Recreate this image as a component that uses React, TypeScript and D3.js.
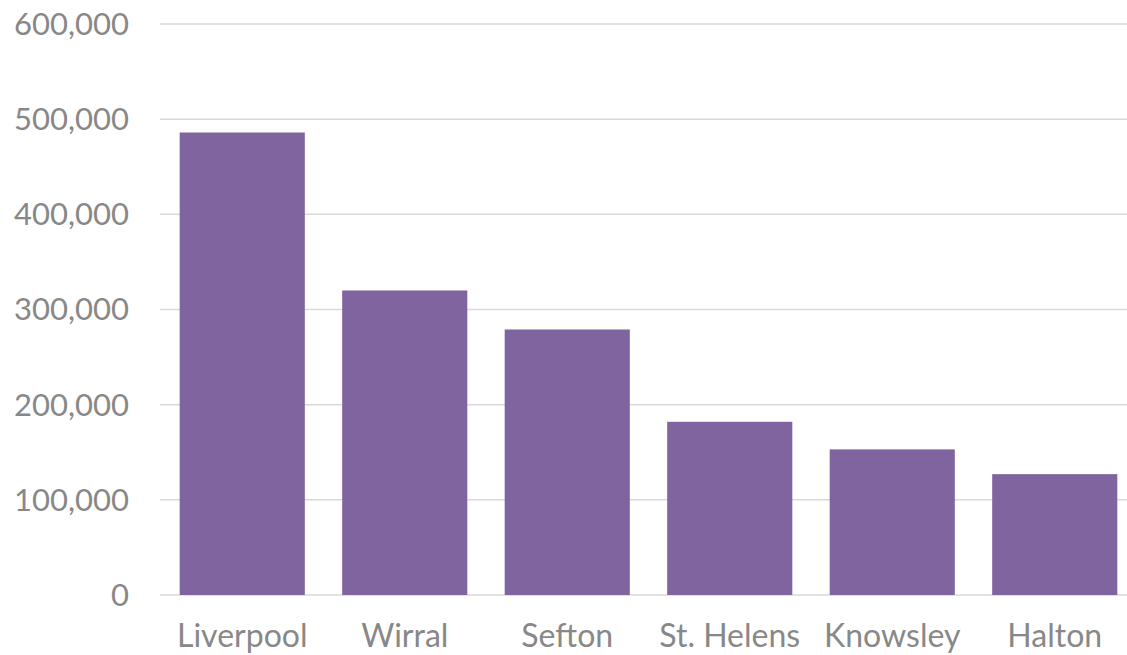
import React, {useEffect, useRef} from "react";
import * as d3 from "d3";

const boroughs = ["Liverpool", "Wirral", "Sefton", "St. Helens", "Knowsley", "Halton"];
const population = [486000, 320000, 279000, 182000, 153000, 127000];
const yTicks = [0, 100000, 200000, 300000, 400000, 500000, 600000];

const W = 1127;
const H = 655;

export default function App() {
  const ref = useRef<SVGSVGElement>(null);

  useEffect(() => {
    const svg = d3.select(ref.current);
    svg.selectAll("*").remove();

    const x = d3.scaleBand().domain(boroughs).range([161, 1136]).paddingInner(0.23).paddingOuter(0.115);
    const y = d3.scaleLinear().domain([0, 600000]).range([595, 24]);

    // gridlines
    svg.append("g")
      .selectAll("line")
      .data(yTicks)
      .enter()
      .append("line")
      .attr("x1", 160)
      .attr("x2", W)
      .attr("y1", d => y(d))
      .attr("y2", d => y(d))
      .attr("stroke", "#d9d9d9")
      .attr("stroke-width", 1.5);

    // bars
    svg.append("g")
      .selectAll("rect")
      .data(population)
      .enter()
      .append("rect")
      .attr("x", (d, i) => x(boroughs[i])!)
      .attr("width", x.bandwidth())
      .attr("y", d => y(d))
      .attr("height", d => y(0) - y(d))
      .attr("fill", "#7f64a0");

    const fmt = d3.format(",");
    svg.append("g")
      .selectAll("text")
      .data(yTicks)
      .enter()
      .append("text")
      .attr("x", 129)
      .attr("y", d => y(d))
      .attr("dy", "0.35em")
      .attr("text-anchor", "end")
      .style("font-family", "Lato")
      .style("font-size", "31px")
      .style("fill", "#888888")
      .text(d => fmt(d));

    svg.append("g")
      .selectAll("text")
      .data(boroughs)
      .enter()
      .append("text")
      .attr("x", d => x(d)! + x.bandwidth() / 2)
      .attr("y", 647)
      .attr("text-anchor", "middle")
      .style("font-family", "Lato")
      .style("font-size", "32px")
      .style("fill", "#888888")
      .text(d => d);
  }, []);

  return (
    <svg ref={ref} width={W} height={H} style={{position: "absolute", left: 0, top: 0}}></svg>
  );
}
